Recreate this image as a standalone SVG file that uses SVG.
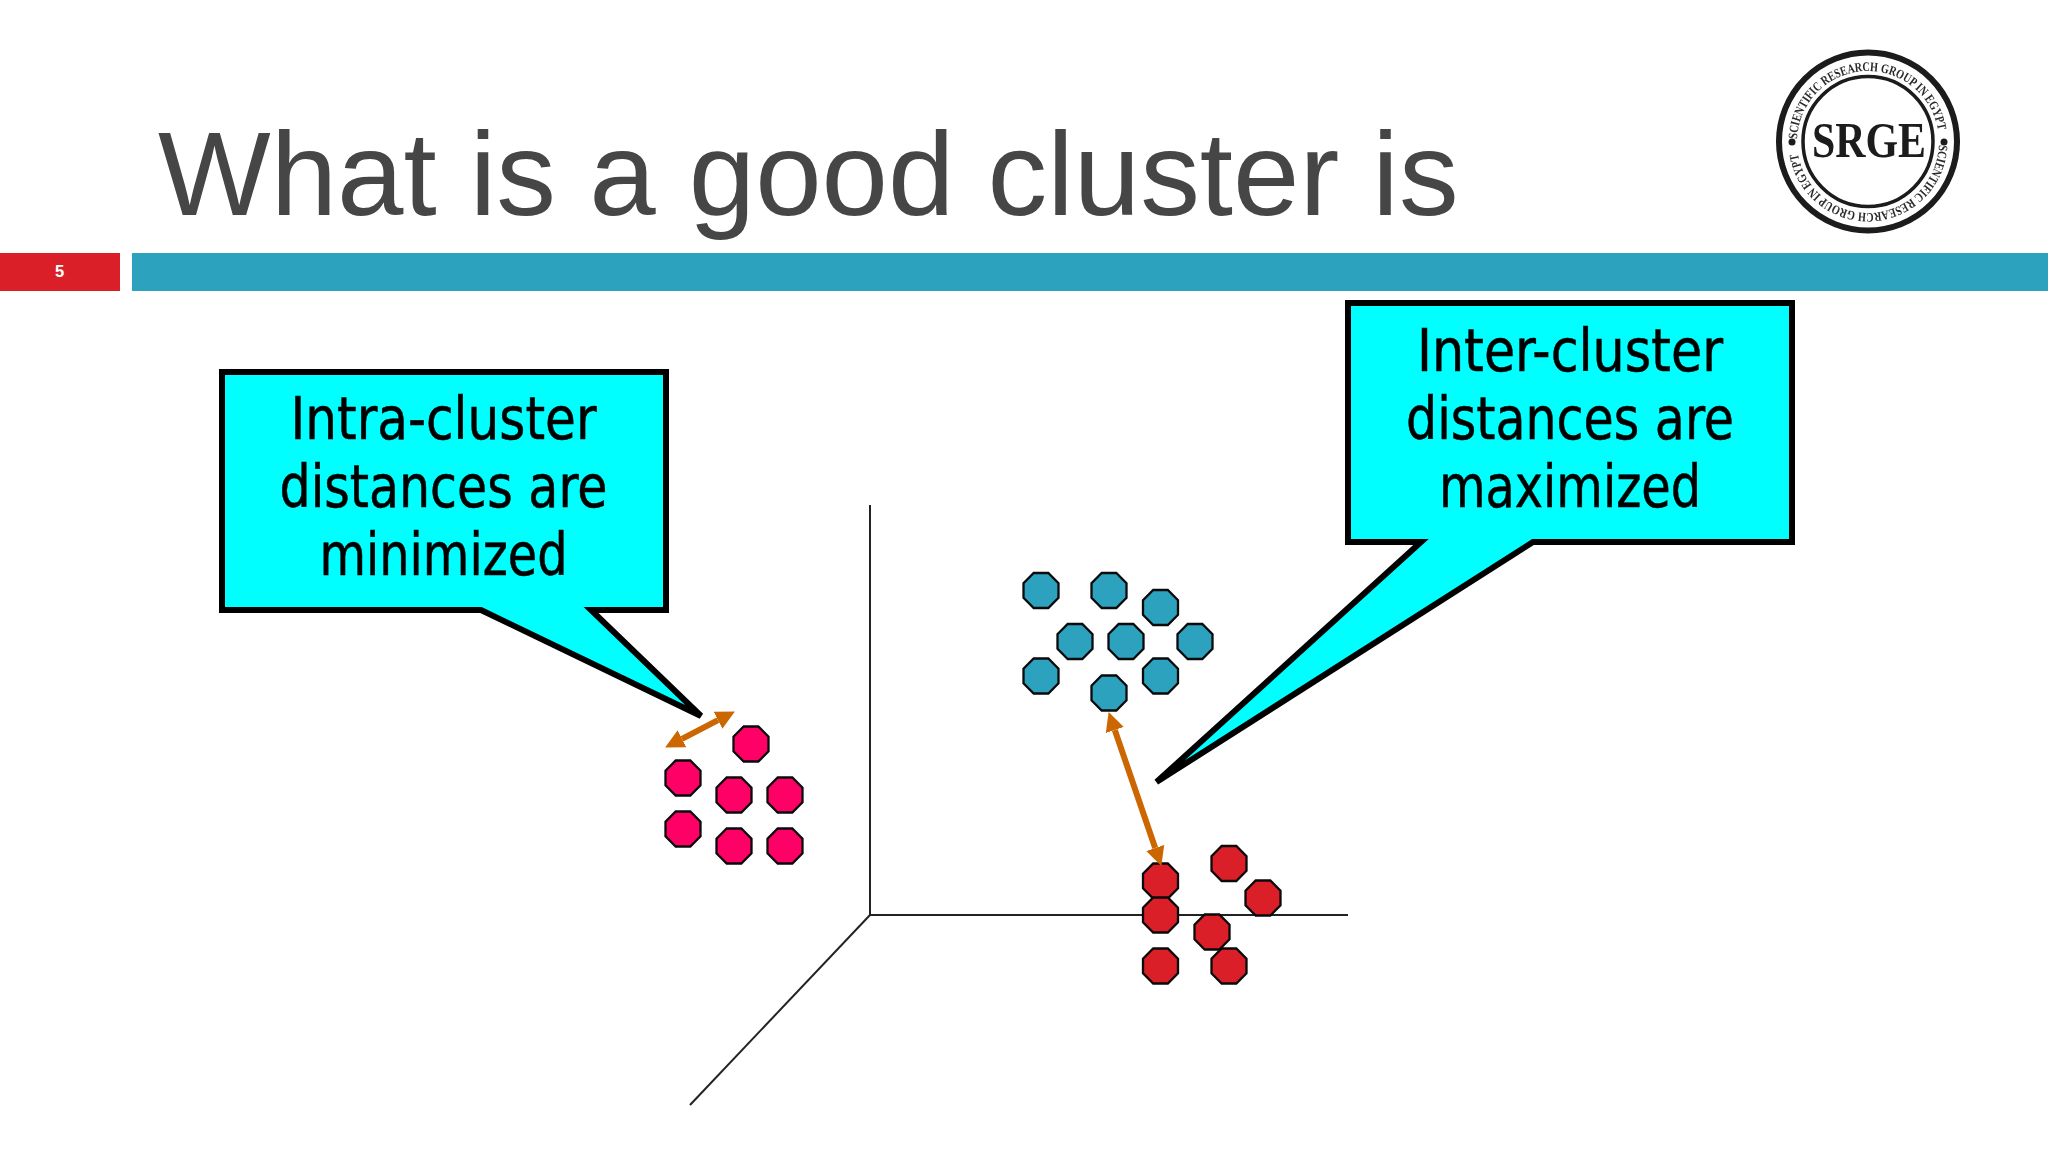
<svg xmlns="http://www.w3.org/2000/svg" width="2048" height="1152" viewBox="0 0 2048 1152">
<style>
.title{font-family:"Liberation Sans",Arial,sans-serif;font-size:119.4px;fill:#464646}
.num{font-family:"Liberation Sans",Arial,sans-serif;font-size:16.5px;font-weight:bold;fill:#fff;text-anchor:middle}
.call{fill:#00ffff;stroke:#000;stroke-width:6;stroke-linejoin:miter}
.ct{font-family:"DejaVu Sans",Verdana,sans-serif;font-stretch:condensed;font-size:58px;fill:#000;stroke:#000;stroke-width:.5;text-anchor:middle}
.o{stroke:#0a0a0a;stroke-width:2.3}
.pk{fill:#ff0066}.bl{fill:#2da2bf}.rd{fill:#da1f28}
.ax{stroke:#222;stroke-width:2;fill:none}
.ar{stroke:#cc6600;stroke-width:6;fill:none;marker-start:url(#head);marker-end:url(#head)}
.lt{font-family:"Liberation Serif","Times New Roman",serif;font-weight:bold;font-size:13px;fill:#2a2a2a}
</style>
<defs>
<filter id="soft" x="-5%" y="-5%" width="110%" height="110%"><feGaussianBlur stdDeviation="0.5"/></filter>
<polygon id="oct" points="-7.3,-17.5 7.3,-17.5 17.5,-7.3 17.5,7.3 7.3,17.5 -7.3,17.5 -17.5,7.3 -17.5,-7.3"/>
<marker id="head" markerUnits="userSpaceOnUse" markerWidth="20" markerHeight="20" refX="0" refY="10" orient="auto-start-reverse" viewBox="0 0 20 20"><path d="M0,0.5 L19,10 L0,19.5 Z" fill="#cc6600"/></marker>
<path id="arcTop" d="M1797,142 A71,71 0 0 1 1939,142"/>
<path id="arcBot" d="M1939,142 A71,71 0 0 1 1797,142"/>
</defs>
<rect width="2048" height="1152" fill="#fff"/>
<g id="title"><text class="title" x="158" y="215">What is a good cluster is</text></g>
<g id="header-bar">
<rect x="0" y="253" width="120" height="38" fill="#da1f28"/>
<rect x="132" y="253" width="1916" height="38" fill="#2da2bf"/>
<text class="num" x="59.5" y="277">5</text>
</g>
<g id="logo" filter="url(#soft)">
<circle cx="1868" cy="141.5" r="89" fill="#fff" stroke="#1a1a1a" stroke-width="6"/>
<circle cx="1868" cy="141.5" r="65" fill="#fff" stroke="#1a1a1a" stroke-width="3.5"/>
<circle cx="1792" cy="142" r="3.5" fill="#1a1a1a"/>
<circle cx="1944" cy="142" r="3.5" fill="#1a1a1a"/>
<text class="lt"><textPath href="#arcTop" startOffset="3" textLength="208" lengthAdjust="spacingAndGlyphs">SCIENTIFIC RESEARCH GROUP IN EGYPT</textPath></text>
<text class="lt"><textPath href="#arcBot" startOffset="3" textLength="208" lengthAdjust="spacingAndGlyphs">SCIENTIFIC RESEARCH GROUP IN EGYPT</textPath></text>
<text x="1869" y="157" text-anchor="middle" textLength="114" lengthAdjust="spacingAndGlyphs" font-family="Liberation Serif, serif" font-weight="bold" font-size="50" fill="#1a1a1a">SRGE</text>
</g>
<g id="axes">
<line class="ax" x1="870" y1="505" x2="870" y2="915"/>
<line class="ax" x1="870" y1="915" x2="1348" y2="915"/>
<line class="ax" x1="870" y1="915" x2="690" y2="1105"/>
</g>
<g id="cluster-pink">
<use href="#oct" class="o pk" x="751" y="744"/>
<use href="#oct" class="o pk" x="683" y="778"/>
<use href="#oct" class="o pk" x="734" y="795"/>
<use href="#oct" class="o pk" x="785" y="795"/>
<use href="#oct" class="o pk" x="683" y="829"/>
<use href="#oct" class="o pk" x="734" y="846"/>
<use href="#oct" class="o pk" x="785" y="846"/>
</g>
<g id="cluster-blue">
<use href="#oct" class="o bl" x="1041" y="590.5"/>
<use href="#oct" class="o bl" x="1109" y="590.5"/>
<use href="#oct" class="o bl" x="1160.5" y="607.5"/>
<use href="#oct" class="o bl" x="1075" y="641.5"/>
<use href="#oct" class="o bl" x="1126" y="641.5"/>
<use href="#oct" class="o bl" x="1195" y="641.5"/>
<use href="#oct" class="o bl" x="1041" y="676"/>
<use href="#oct" class="o bl" x="1160.5" y="676"/>
<use href="#oct" class="o bl" x="1109" y="693"/>
</g>
<g id="cluster-red">
<use href="#oct" class="o rd" x="1160.5" y="881"/>
<use href="#oct" class="o rd" x="1229" y="863.5"/>
<use href="#oct" class="o rd" x="1263" y="898"/>
<use href="#oct" class="o rd" x="1160.5" y="915"/>
<use href="#oct" class="o rd" x="1212" y="932"/>
<use href="#oct" class="o rd" x="1160.5" y="966"/>
<use href="#oct" class="o rd" x="1229" y="966"/>
</g>
<g id="callout-intra">
<path class="call" d="M222,372 H666 V610 H591 L701,716 L481,610 H222 Z"/>
<text class="ct" x="443.5" y="438.5" textLength="306" lengthAdjust="spacingAndGlyphs">Intra-cluster</text>
<text class="ct" x="443.5" y="506.5" textLength="328" lengthAdjust="spacingAndGlyphs">distances are</text>
<text class="ct" x="443.5" y="574.5" textLength="248" lengthAdjust="spacingAndGlyphs">minimized</text>
</g>
<g id="callout-inter">
<path class="call" d="M1348,303 H1792 V542 H1533 L1156.5,782 L1421,542 H1348 Z"/>
<text class="ct" x="1570" y="370.5" textLength="306" lengthAdjust="spacingAndGlyphs">Inter-cluster</text>
<text class="ct" x="1570" y="438.5" textLength="328" lengthAdjust="spacingAndGlyphs">distances are</text>
<text class="ct" x="1570" y="506.5" textLength="262" lengthAdjust="spacingAndGlyphs">maximized</text>
</g>
<g id="connectors">
<line class="ar" x1="682" y1="738.8" x2="718" y2="720.2"/>
<line class="ar" x1="1114.8" y1="730" x2="1155.2" y2="848"/>
</g>
</svg>
